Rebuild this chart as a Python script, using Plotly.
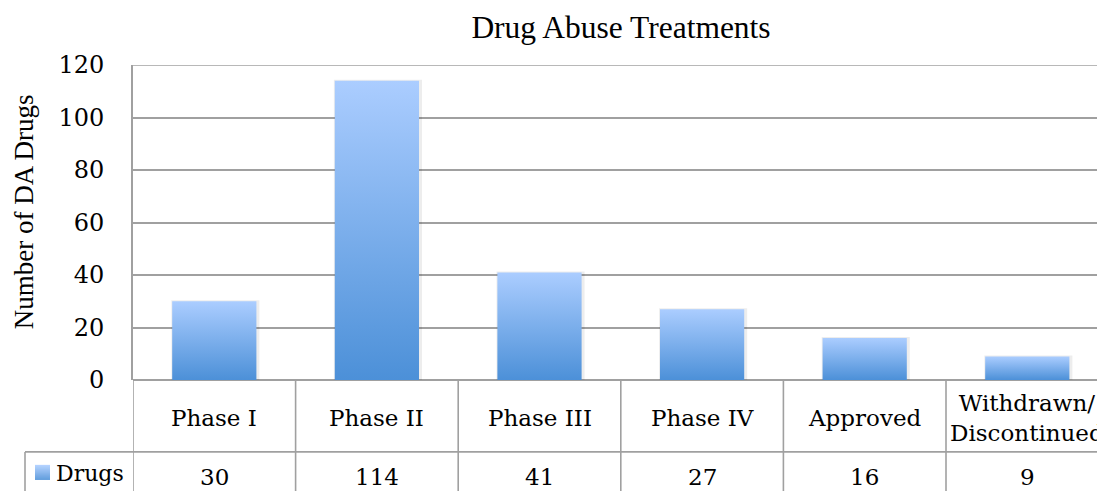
import plotly.graph_objects as go

# ---- data ----
categories = ["Phase I", "Phase II", "Phase III", "Phase IV", "Approved", "Withdrawn/<br>Discontinued"]
drugs = [30, 114, 41, 27, 16, 9]
series_name = "Drugs"
y_ticks = [0, 20, 40, 60, 80, 100, 120]
title_text = "Drug Abuse Treatments"
y_title = "Number of DA Drugs"

# ---- layout constants (pixels) ----
W, H = 1097, 491
PLOT_L, PLOT_T, PLOT_B = 133, 64.5, 380
COL_W = 162.6
plot_w = W - PLOT_L
plot_h = PLOT_B - PLOT_T
BAR_W = 0.518
Y_MAX = 120

TOP_C = "#abcdff"
BOT_C = "#4c90d8"
GRID_C = "#a0a0a0"
SERIF = "Liberation Serif, Times New Roman, serif"
TABLE_F = "DejaVu Serif, serif"


def py(p):  # pixel y -> paper y
    return (PLOT_B - p) / plot_h


def px(p):  # pixel x -> paper x
    return (p - PLOT_L) / plot_w


fig = go.Figure()

# shadow offsets (in data units, equivalent to a few pixels)
sx = 3 / COL_W
sy = 3 * Y_MAX / plot_h

# bars as gradient-filled polygons built from the data
for i, v in enumerate(drugs):
    x0, x1 = i - BAR_W / 2, i + BAR_W / 2
    # soft shadow
    fig.add_trace(go.Scatter(x=[x0 - sx * 0.3, x1 + sx, x1 + sx, x0 - sx * 0.3, x0 - sx * 0.3],
                             y=[0, 0, v + sy * 0.3, v + sy * 0.3, 0],
                             mode="none", fill="toself", fillcolor="rgba(0,0,0,0.07)",
                             hoverinfo="skip", showlegend=False))
    fig.add_trace(go.Scatter(
        x=[x0, x1, x1, x0, x0], y=[0, 0, v, v, 0], mode="none", fill="toself",
        fillgradient=dict(type="vertical", colorscale=[[0, BOT_C], [1, TOP_C]],
                          start=0, stop=v),
        name=series_name, showlegend=False,
        hovertemplate=f"{categories[i]}: {v}<extra></extra>"))

n = len(categories)
right_edge = -0.5 + plot_w / COL_W

fig.update_xaxes(range=[-0.5, right_edge], showgrid=False, zeroline=False,
                 showticklabels=False, showline=False, fixedrange=True)
fig.update_yaxes(range=[0, Y_MAX], tickvals=y_ticks, showgrid=True, gridcolor=GRID_C,
                 gridwidth=1.6, zeroline=True, zerolinecolor=GRID_C, zerolinewidth=1.6,
                 showline=True, linecolor=GRID_C, linewidth=1.6,
                 ticks="", ticklabelstandoff=22,
                 tickfont=dict(family=TABLE_F, size=24, color="black"))

shapes = []
line_style = dict(color=GRID_C, width=1.6)
# top-of-plot gridline (range edge)
shapes.append(dict(type="line", xref="paper", yref="y", x0=0, x1=1, y0=y_ticks[-1], y1=y_ticks[-1], line=line_style))
# table vertical separators at category boundaries
for k in range(n + 1):
    shapes.append(dict(type="line", xref="x", yref="paper", x0=k - 0.5, x1=k - 0.5,
                       y0=0, y1=py(H + 5), line=line_style))
# table horizontal line between labels and values
shapes.append(dict(type="line", xref="paper", yref="paper", x0=px(25), x1=1.05,
                   y0=py(452), y1=py(452), line=line_style))
# left edge of legend cell
shapes.append(dict(type="line", xref="paper", yref="paper", x0=px(25), x1=px(25),
                   y0=py(452), y1=py(H + 5), line=line_style))

# legend key gradient square
steps = 15
def mix(a, b, t):
    a = [int(a[i:i + 2], 16) for i in (1, 3, 5)]
    b = [int(b[i:i + 2], 16) for i in (1, 3, 5)]
    return "rgb(%d,%d,%d)" % tuple(round(a[j] + (b[j] - a[j]) * t) for j in range(3))
for s in range(steps):
    t = s / (steps - 1)
    shapes.append(dict(type="rect", xref="paper", yref="paper",
                       x0=px(35), x1=px(50), y0=py(465 + s), y1=py(466 + s),
                       fillcolor=mix(TOP_C, BOT_C, t), line=dict(width=0), layer="above"))

annotations = []
for i, c in enumerate(categories):
    annotations.append(dict(x=i, xref="x", y=py(418), yref="paper", text=c,
                            showarrow=False, xanchor="center", yanchor="middle",
                            font=dict(family=TABLE_F, size=23, color="black")))
    annotations.append(dict(x=i, xref="x", y=py(477), yref="paper", text=str(drugs[i]),
                            showarrow=False, xanchor="center", yanchor="middle",
                            font=dict(family=TABLE_F, size=23, color="black")))
annotations.append(dict(x=px(54), xref="paper", y=py(474), yref="paper", text=series_name,
                        showarrow=False, xanchor="left", yanchor="middle",
                        font=dict(family=TABLE_F, size=22, color="black")))
annotations.append(dict(x=px(24), xref="paper", y=py(212), yref="paper", text=y_title,
                        textangle=-90, showarrow=False, xanchor="center", yanchor="middle",
                        font=dict(family=SERIF, size=27, color="black")))

fig.update_layout(
    width=W, height=H,
    margin=dict(l=PLOT_L, r=0, t=PLOT_T, b=H - PLOT_B, pad=0),
    paper_bgcolor="white", plot_bgcolor="white",
    title=dict(text=title_text, x=621 / W, xref="container", xanchor="center",
               y=1 - 27 / H, yref="container", yanchor="middle",
               font=dict(family=SERIF, size=31.5, color="black")),
    shapes=shapes, annotations=annotations, showlegend=False,
)

fig.write_html("out.html")
